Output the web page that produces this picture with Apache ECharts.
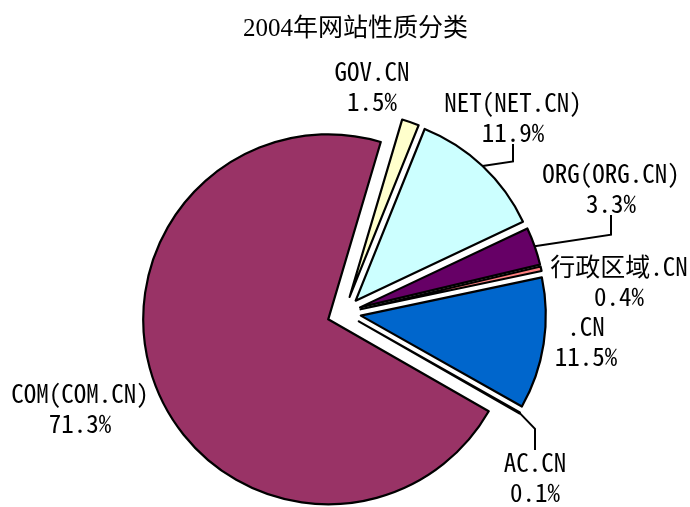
<!DOCTYPE html>
<html>
<head>
<meta charset="utf-8">
<script src="https://cdn.jsdelivr.net/npm/echarts@6/dist/echarts.min.js"></script>
<style>
html,body{margin:0;padding:0;background:#fff;}
#echart{width:690px;height:507px;}
</style>
</head>
<body>
<div id="echart"></div>
<script>
// 数据
var names = ['GOV.CN', 'NET(NET.CN)', 'ORG(ORG.CN)', '行政区域.CN', '.CN', 'AC.CN', 'COM(COM.CN)'];
var values = [1.5, 11.9, 3.3, 0.4, 11.5, 0.1, 71.3];
var colors = ['#FFFFCC', '#CCFFFF', '#660066', '#FF8080', '#0066CC', '#99CCFF', '#993366'];
var showLine = [false, true, true, false, false, true, false];

// 标签位置(中心)
var labelPos = [[372, 86], [513, 117], [611, 188], [619, 281], [586, 341], [535, 477], [80, 408]];

var startAngle = 73.5, offset = 17, center = [344, 313], radius = 185;

// 每个扇区的分离偏移
var total = 0;
for (let i = 0; i < values.length; i++) total += values[i];
var shift = [];
var cum = 0;
for (let i = 0; i < values.length; i++) {
    let mid = (startAngle - (cum + values[i] / 2) / total * 360) * Math.PI / 180;
    shift.push([Math.cos(mid) * offset, -Math.sin(mid) * offset, mid]);
    cum += values[i];
}

var myChart = echarts.init(document.getElementById('echart'));
var pie_data = [];
for (let i = 0; i < names.length; i++) {
    pie_data.push({
        name: names[i],
        value: values[i],
        selected: true,
        itemStyle: {color: colors[i]},
        labelLine: {show: showLine[i]}
    });
}

var labelFont = "'Noto Sans Mono CJK SC', 'Liberation Mono', monospace";
var lineStyleText = {width: 170, align: 'center', fontFamily: labelFont, fontSize: 25, lineHeight: 30, color: '#000'};

var option = {
    animation: false,
    title: {
        text: '2004年网站性质分类',
        left: 238,
        top: 12,
        textStyle: {
            fontFamily: "'Liberation Serif', 'Noto Sans CJK SC'",
            fontSize: 25,
            fontWeight: 'normal',
            color: '#000'
        }
    },
    series: [{
        type: 'pie',
        center: center,
        radius: radius,
        startAngle: startAngle,
        clockwise: true,
        selectedMode: 'multiple',
        selectedOffset: offset,
        avoidLabelOverlap: false,
        data: pie_data,
        itemStyle: {borderColor: '#000', borderWidth: 2.2},
        select: {itemStyle: {borderColor: '#000', borderWidth: 2.2}},
        emphasis: {disabled: true},
        label: {
            show: true,
            position: 'outside',
            formatter: function (p) {
                return '{n|' + p.name + '}\n{n|' + p.value.toFixed(1) + '%}';
            },
            rich: {n: lineStyleText},
            fontFamily: labelFont,
            fontSize: 25,
            lineHeight: 30,
            color: '#000'
        },
        labelLine: {
            lineStyle: {color: '#000', width: 2},
            length: 10,
            length2: 10
        },
        labelLayout: function (params) {
            var i = params.dataIndex;
            var pos = labelPos[i];
            var s = shift[i];
            var r = params.labelRect;
            var res = {
                dx: pos[0] - s[0] - (r.x + r.width / 2),
                dy: pos[1] - s[1] - (r.y + r.height / 2)
            };
            if (showLine[i]) {
                // 弧上中点(未偏移坐标)
                var p0 = [center[0] + Math.cos(s[2]) * radius, center[1] - Math.sin(s[2]) * radius];
                var lx = pos[0] - s[0];
                var ly;
                if (pos[1] < p0[1] + s[1]) {
                    ly = pos[1] + r.height / 2 - 3 - s[1];
                    res.labelLinePoints = [p0, [lx, p0[1] - 0.15 * (lx - p0[0])], [lx, ly]];
                } else {
                    ly = pos[1] - r.height / 2 + 3 - s[1];
                    res.labelLinePoints = [p0, [lx, p0[1] + 16], [lx, ly]];
                }
            }
            return res;
        }
    }]
};
myChart.setOption(option);
</script>
</body>
</html>
